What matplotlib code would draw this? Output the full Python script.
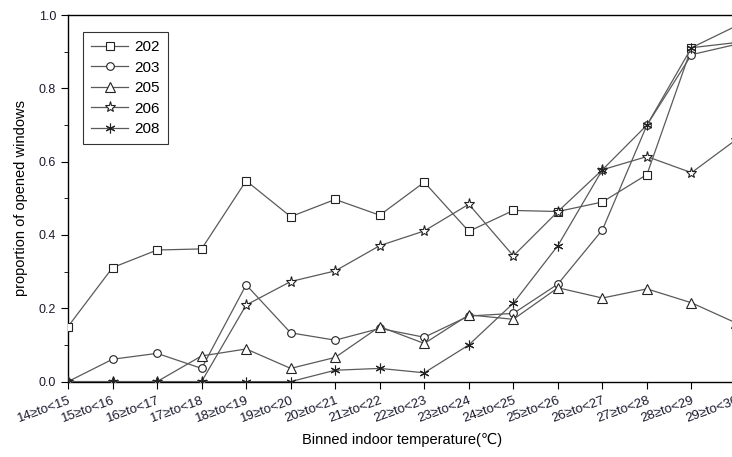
import matplotlib
matplotlib.use("Agg")
import matplotlib.pyplot as plt
import numpy as np

plt.rcParams['font.family'] = ['Liberation Sans', 'DejaVu Sans']

bins = ["14\u2265to<15", "15\u2265to<16", "16\u2265to<17", "17\u2265to<18",
        "18\u2265to<19", "19\u2265to<20", "20\u2265to<21", "21\u2265to<22",
        "22\u2265to<23", "23\u2265to<24", "24\u2265to<25", "25\u2265to<26",
        "26\u2265to<27", "27\u2265to<28", "28\u2265to<29", "29\u2265to<30"]

r202 = [0.150, 0.311, 0.359, 0.362, 0.548, 0.450, 0.497, 0.454,
        0.544, 0.410, 0.467, 0.464, 0.490, 0.565, 0.911, 0.925]
r203 = [0.0, 0.061, 0.077, 0.036, 0.264, 0.133, 0.113, 0.145,
        0.121, 0.179, 0.186, 0.266, 0.414, 0.700, 0.892, 0.920]
r205 = [0.0, 0.0, 0.0, 0.070, 0.089, 0.036, 0.066, 0.150,
        0.104, 0.182, 0.170, 0.256, 0.228, 0.253, 0.215, 0.160]
r206 = [0.0, 0.0, 0.0, 0.0, 0.209, 0.273, 0.302, 0.371,
        0.411, 0.484, 0.343, 0.464, 0.578, 0.614, 0.570, 0.660]
r208 = [0.0, 0.0, 0.0, 0.0, 0.0, 0.0, 0.031, 0.036,
        0.024, 0.100, 0.214, 0.371, 0.578, 0.700, 0.911, 0.970]

series = [("202", r202, "s", 5.5), ("203", r203, "o", 5.5), ("205", r205, "^", 6.5),
          ("206", r206, "*", 8), ("208", r208, (6, 2, 0), 7)]

fig = plt.figure(figsize=(7.32, 4.57), dpi=100)
ax = fig.add_axes([0.0929, 0.165, 0.9126, 0.802])

xs = np.arange(len(bins))
for name, vals, mk, ms in series:
    ax.plot(xs, vals, color="#5a5a5a", lw=0.9, marker=mk, markersize=ms,
            markerfacecolor="white", markeredgecolor="#222222",
            markeredgewidth=0.8, label=name, zorder=3)

ax.set_xlim(0, 15)
ax.set_ylim(0, 1.0)
ax.set_yticks(np.arange(0, 1.01, 0.2))
ax.set_yticks(np.arange(0.1, 1.0, 0.2), minor=True)
ax.set_yticklabels(["0.0", "0.2", "0.4", "0.6", "0.8", "1.0"])
ax.set_xticks(xs)
ax.set_xticklabels(bins, rotation=20, ha="right", rotation_mode="anchor")
ax.tick_params(axis="both", direction="out", labelsize=9, colors="black",
               labelcolor="#1a1a2e")
ax.tick_params(axis="x", labelsize=9.5)
ax.tick_params(axis="y", which="major", length=5)
ax.tick_params(axis="y", which="minor", length=3)
ax.tick_params(axis="x", length=5, pad=4)
ax.spines["right"].set_visible(False)
for s in ax.spines.values():
    s.set_linewidth(1.0)

ax.set_xlabel("Binned indoor temperature(\u2103)", fontsize=10.5, labelpad=6)
ax.set_ylabel("proportion of opened windows", fontsize=10.5, labelpad=8)

leg = ax.legend(loc="upper left", bbox_to_anchor=(0.0225, 0.954),
                borderaxespad=0, fontsize=11, frameon=True, fancybox=False,
                handlelength=2.4, borderpad=0.55, labelspacing=0.42,
                handletextpad=0.4)
leg.get_frame().set_edgecolor("black")
leg.get_frame().set_linewidth(0.8)

plt.savefig("out.png", dpi=100)
